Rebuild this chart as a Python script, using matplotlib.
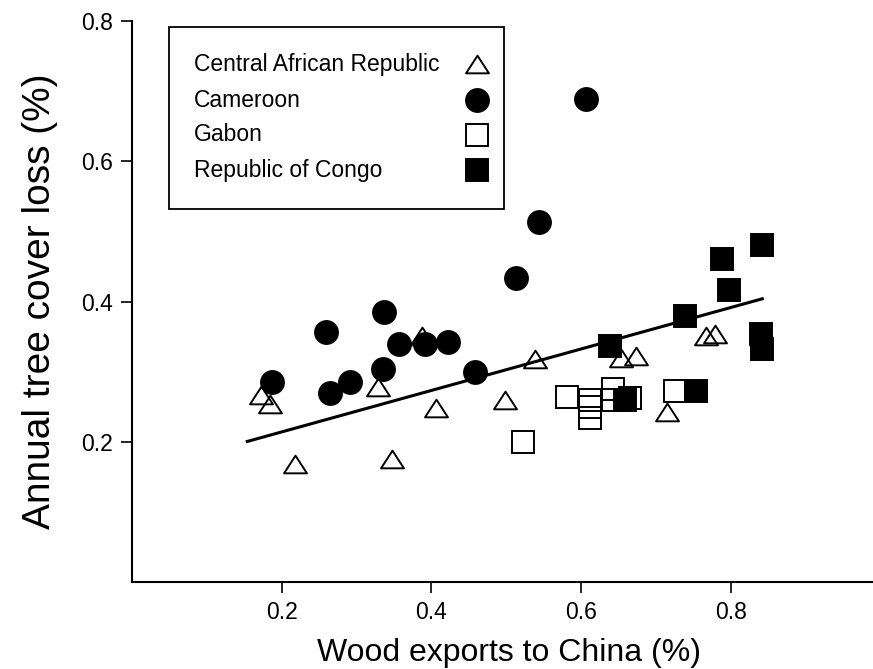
import matplotlib
matplotlib.use("Agg")
import matplotlib.pyplot as plt
from matplotlib.patches import Rectangle
from matplotlib.path import Path

plt.rcParams["font.family"] = ["Liberation Sans", "DejaVu Sans"]

# wood exports to China (%) vs annual tree cover loss (%)
car_x = [0.173, 0.185, 0.218, 0.328, 0.387, 0.348, 0.406, 0.498, 0.538,
         0.653, 0.673, 0.715, 0.767, 0.779]
car_y = [0.266, 0.254, 0.168, 0.278, 0.351, 0.175, 0.248, 0.260, 0.318,
         0.320, 0.323, 0.242, 0.351, 0.354]

cmr_x = [0.187, 0.259, 0.264, 0.291, 0.337, 0.335, 0.357, 0.391, 0.422,
         0.458, 0.513, 0.544, 0.606]
cmr_y = [0.285, 0.356, 0.270, 0.285, 0.385, 0.304, 0.339, 0.339, 0.342,
         0.299, 0.434, 0.513, 0.689]

gab_x = [0.523, 0.581, 0.612, 0.612, 0.612, 0.643, 0.642, 0.665, 0.726]
gab_y = [0.199, 0.264, 0.259, 0.249, 0.234, 0.275, 0.259, 0.263, 0.272]

cog_x = [0.638, 0.658, 0.739, 0.753, 0.788, 0.798, 0.842, 0.840, 0.842]
cog_y = [0.337, 0.259, 0.380, 0.272, 0.460, 0.416, 0.480, 0.354, 0.332]

# linear fit over the pooled data
fit_slope = 0.2957
fit_intercept = 0.1549
fit_x = [0.154, 0.842]

x_ticks = [0.2, 0.4, 0.6, 0.8]
y_ticks = [0.2, 0.4, 0.6, 0.8]

# squat open triangle, closed so every edge gets stroked
tri = Path([(-1, -0.77), (1, -0.77), (0, 0.77), (-1, -0.77)],
           [Path.MOVETO, Path.LINETO, Path.LINETO, Path.CLOSEPOLY])
ms = 16.5
mew = 1.4

fig = plt.figure(figsize=(8.73, 6.69), dpi=100)
ax = fig.add_axes([0.1512, 0.1300, 0.8488, 0.8386])

ax.plot(fit_x, [fit_slope * v + fit_intercept for v in fit_x],
        color="black", lw=2.2, zorder=2)

ax.plot(car_x, car_y, ls="none", marker=tri, ms=ms, mew=mew,
        mfc="none", mec="black", zorder=3)
ax.plot(gab_x, gab_y, ls="none", marker="s", ms=ms, mew=mew,
        mfc="none", mec="black", zorder=3)
ax.plot(cmr_x, cmr_y, ls="none", marker="o", ms=ms, mew=mew,
        mfc="black", mec="black", zorder=4)
ax.plot(cog_x, cog_y, ls="none", marker="s", ms=ms, mew=mew,
        mfc="black", mec="black", zorder=4)

ax.set_xlim(0, 0.99)
ax.set_ylim(0, 0.8)
ax.set_xticks(x_ticks)
ax.set_yticks(y_ticks)
ax.set_xticklabels([f"{t:.1f}" for t in x_ticks])
ax.set_yticklabels([f"{t:.1f}" for t in y_ticks])
ax.tick_params(direction="out", length=8, width=1.2, labelsize=16.5, pad=6)

for side in ("top", "right"):
    ax.spines[side].set_visible(False)
for side in ("left", "bottom"):
    ax.spines[side].set_linewidth(1.5)

ax.set_xlabel("Wood exports to China (%)", fontsize=23, labelpad=10)
ax.xaxis.label.set_x(0.509)
ax.set_ylabel("Annual tree cover loss (%)", fontsize=28, labelpad=16)

# legend: names left-aligned, symbols in a column on the right
ax.add_patch(Rectangle((0.050, 0.665), 0.452, 0.324, transform=ax.transAxes,
                       fill=False, ec="black", lw=1.3, clip_on=False))
legend_rows = [
    ("Central African Republic", dict(marker=tri, mfc="none")),
    ("Cameroon", dict(marker="o", mfc="black")),
    ("Gabon", dict(marker="s", mfc="none")),
    ("Republic of Congo", dict(marker="s", mfc="black")),
]
row_y = [0.923, 0.859, 0.797, 0.734]
for (name, style), yy in zip(legend_rows, row_y):
    ax.text(0.084, yy, name, transform=ax.transAxes, fontsize=16.5,
            va="center", ha="left")
    ax.plot([0.466], [yy], transform=ax.transAxes, ls="none", ms=ms,
            mew=mew, mec="black", clip_on=False, **style)

fig.savefig("out.png", dpi=100)
